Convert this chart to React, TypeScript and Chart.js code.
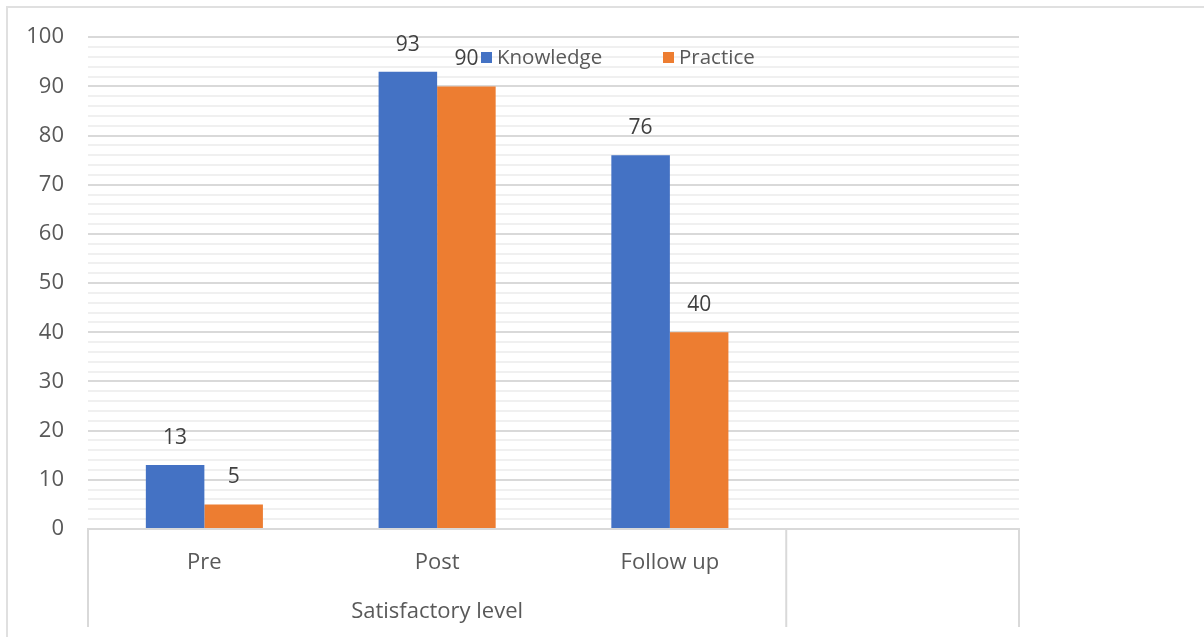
import React, { useEffect, useRef } from "react";
import { Chart, registerables } from "chart.js";

Chart.register(...registerables);

const categories = ["Pre", "Post", "Follow up", ""];
const knowledge = [13, 93, 76, null];
const practice = [5, 90, 40, null];
const seriesNames = ["Knowledge", "Practice"];
const seriesColors = ["#4472C4", "#ED7D31"];
const groupLabel = "Satisfactory level";
const groupSpan = 3;
const yMin = 0;
const yMax = 100;
const yMinorStep = 2;
const yMajorStep = 10;

const FONT = "'Open Sans', sans-serif";
const TEXT = "#595959";
const GRID_MAJOR = "#d9d9d9";
const GRID_MINOR = "#f0f0f0";

const framePlugin = {
  id: "frame",
  beforeDraw(chart: any) {
    const ctx = chart.ctx;
    ctx.save();
    ctx.strokeStyle = "#e0e0e0";
    ctx.lineWidth = 2;
    ctx.beginPath();
    ctx.moveTo(7, chart.height);
    ctx.lineTo(7, 7);
    ctx.lineTo(chart.width, 7);
    ctx.stroke();
    ctx.restore();
  },
};

const axisGroupPlugin = {
  id: "axisGroup",
  afterDraw(chart: any) {
    const ctx = chart.ctx;
    const x = chart.scales.x;
    const area = chart.chartArea;
    const n = categories.length;
    const w = (area.right - area.left) / n;
    const edge = (i: number) => x.getPixelForValue(i) - w / 2;
    const lines = [edge(0), edge(groupSpan), edge(n)];
    ctx.save();
    ctx.strokeStyle = GRID_MAJOR;
    ctx.lineWidth = 2;
    ctx.beginPath();
    lines.forEach((px) => {
      ctx.moveTo(px, area.bottom);
      ctx.lineTo(px, chart.height - 10);
    });
    ctx.stroke();
    ctx.fillStyle = TEXT;
    ctx.font = `22px ${FONT}`;
    ctx.textAlign = "center";
    ctx.textBaseline = "middle";
    ctx.fillText(groupLabel, (edge(0) + edge(groupSpan)) / 2, area.bottom + 83);
    ctx.restore();
  },
};

const dataLabelPlugin = {
  id: "dataLabels",
  afterDatasetsDraw(chart: any) {
    const ctx = chart.ctx;
    ctx.save();
    ctx.fillStyle = "#404040";
    ctx.font = `21px ${FONT}`;
    ctx.textAlign = "center";
    ctx.textBaseline = "middle";
    chart.data.datasets.forEach((ds: any, di: number) => {
      const meta = chart.getDatasetMeta(di);
      meta.data.forEach((el: any, i: number) => {
        const v = ds.data[i];
        if (v === null || v === undefined) return;
        ctx.fillText(String(v), el.x, el.y - 27);
      });
    });
    ctx.restore();
  },
};

const legendPlugin = {
  id: "customLegend",
  afterDraw(chart: any) {
    const ctx = chart.ctx;
    const starts = [481, 663];
    ctx.save();
    ctx.font = `20.5px ${FONT}`;
    ctx.textBaseline = "middle";
    ctx.textAlign = "left";
    seriesNames.forEach((name, i) => {
      const x0 = starts[i];
      ctx.fillStyle = seriesColors[i];
      ctx.fillRect(x0, 52, 11, 11);
      ctx.fillStyle = TEXT;
      ctx.fillText(name, x0 + 16, 58);
    });
    ctx.restore();
  },
};

export default function App() {
  const ref = useRef<HTMLCanvasElement | null>(null);
  useEffect(() => {
    if (!ref.current) return;
    const chart = new Chart(ref.current, {
      type: "bar",
      data: {
        labels: categories,
        datasets: [
          { label: seriesNames[0], data: knowledge, backgroundColor: seriesColors[0] },
          { label: seriesNames[1], data: practice, backgroundColor: seriesColors[1] },
        ],
      },
      options: {
        responsive: false,
        animation: false,
        devicePixelRatio: 1,
        layout: { padding: { left: 0, right: 185, top: 37, bottom: 0 } },
        datasets: { bar: { barPercentage: 1, categoryPercentage: 0.503 } },
        plugins: { legend: { display: false }, tooltip: { enabled: false } },
        scales: {
          x: {
            grid: { display: false },
            border: { display: true, color: GRID_MAJOR, width: 2 },
            ticks: { color: TEXT, font: { family: FONT, size: 22 }, padding: 13, maxRotation: 0 },
            afterFit: (s: any) => { s.height = 108; },
          },
          y: {
            min: yMin,
            max: yMax,
            border: { display: false },
            grid: {
              drawTicks: false,
              lineWidth: 2,
              color: (c: any) => (c.tick && c.tick.value % yMajorStep === 0 ? GRID_MAJOR : GRID_MINOR),
            },
            ticks: {
              stepSize: yMinorStep,
              autoSkip: false,
              color: TEXT,
              font: { family: FONT, size: 22 },
              padding: 24,
              callback: (v: any) => (Number(v) % yMajorStep === 0 ? String(v) : ""),
            },
            afterFit: (s: any) => { s.width = 88; },
          },
        },
      } as any,
      plugins: [framePlugin, axisGroupPlugin, dataLabelPlugin, legendPlugin],
    });
    return () => chart.destroy();
  }, []);
  return (
    <div style={{ position: "fixed", left: 0, top: 0, width: 1204, height: 637, background: "#fff" }}>
      <canvas ref={ref} width={1204} height={637} />
    </div>
  );
}
